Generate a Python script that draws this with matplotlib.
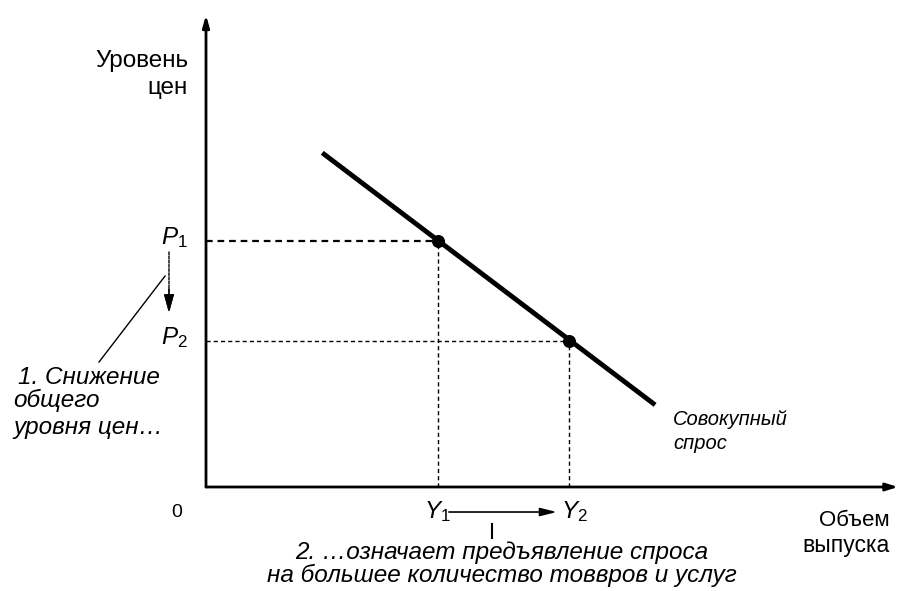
import matplotlib
matplotlib.use("Agg")
import matplotlib.pyplot as plt
from matplotlib import font_manager as fm

# ---- data (economic coordinates) ----
demand_x = [1.68, 6.49]
demand_y = [7.08, 1.74]
Y_vals = [3.35, 5.25]          # Y1, Y2
P_vals = [5.22, 3.10]          # P1, P2
P_labels = ["$P_1$", "$P_2$"]
Y_labels = ["$Y_1$", "$Y_2$"]

names = {f.name for f in fm.fontManager.ttflist}
REG = "Liberation Sans"
NARROW = "Liberation Sans Narrow" if "Liberation Sans Narrow" in names else "Liberation Sans"

plt.rcParams["mathtext.fontset"] = "custom"
plt.rcParams["mathtext.it"] = "Liberation Sans:italic"
plt.rcParams["mathtext.rm"] = "Liberation Sans"

fig = plt.figure(figsize=(9.02, 5.91), dpi=100)
W, H = 902, 591
L, R, B, T = 206, 898, 487, 15
ax = fig.add_axes([L / W, (H - B) / H, (R - L) / W, (B - T) / H])
ax.set_xlim(0, 10)
ax.set_ylim(0, 10)
ax.axis("off")

# axes with arrows
ax.annotate("", xy=(0, 10), xytext=(0, 0), annotation_clip=False,
            arrowprops=dict(arrowstyle="-|>,head_length=0.7,head_width=0.2", lw=2, color="black",
                            shrinkA=0, shrinkB=0))
ax.annotate("", xy=(10, 0), xytext=(0, 0), annotation_clip=False,
            arrowprops=dict(arrowstyle="-|>,head_length=0.7,head_width=0.22", lw=2, color="black",
                            shrinkA=0, shrinkB=0))

# demand curve
ax.plot(demand_x, demand_y, color="black", lw=3.5, solid_capstyle="butt", clip_on=False)

# dashed guides
for i, (yv, pv) in enumerate(zip(Y_vals, P_vals)):
    ax.plot([0, yv], [pv, pv], color="black", lw=1.6 if i == 0 else 1.0,
            dashes=(3, 2.2), clip_on=False)
    ax.plot([yv, yv], [0, pv], color="black", lw=1.0, dashes=(3, 2.2), clip_on=False)

ax.scatter(Y_vals, P_vals, s=70, color="black", zorder=5, clip_on=False)

# axis labels
ax.text(-0.26, 9.03, "Уровень", ha="right", va="center", fontsize=17.5, family=REG)
ax.text(-0.26, 8.46, "цен", ha="right", va="center", fontsize=17.5, family=REG)
ax.text(9.88, -0.70, "Объем", ha="right", va="center", fontsize=16, family=NARROW)
ax.text(9.88, -1.23, "выпуска", ha="right", va="center", fontsize=16.5, family=NARROW)
ax.text(-0.42, -0.53, "0", ha="center", va="center", fontsize=14, family=NARROW)

# P labels
for lab, pv in zip(P_labels, P_vals):
    ax.text(-0.27, pv + 0.06, lab, ha="right", va="center", fontsize=17.5)

# P1 -> P2 arrow
ax.annotate("", xy=(-0.535, 3.69), xytext=(-0.535, 4.98), annotation_clip=False,
            arrowprops=dict(arrowstyle="-|>,head_length=1.1,head_width=0.3", lw=1.0,
                            linestyle=(0, (2, 1)), color="black", shrinkA=0, shrinkB=0))
ax.annotate("", xy=(-0.535, 3.69), xytext=(-0.535, 4.2), annotation_clip=False,
            arrowprops=dict(arrowstyle="-|>,head_length=1.1,head_width=0.3", lw=1.0,
                            color="black", shrinkA=0, shrinkB=0))
# pointer line
ax.plot([-0.592, -1.546], [4.47, 2.648], color="black", lw=1.0, clip_on=False)

ax.text(-2.72, 2.33, "1. Снижение", ha="left", va="center", fontsize=17.5, style="italic", family=REG)
ax.text(-2.78, 1.84, "общего", ha="left", va="center", fontsize=17.5, style="italic", family=REG)
ax.text(-2.78, 1.27, "уровня цен…", ha="left", va="center", fontsize=17.5, style="italic", family=REG)

# Y labels and arrow
ax.text(Y_vals[0], -0.53, Y_labels[0], ha="center", va="center", fontsize=17.5)
ax.text(Y_vals[1] - 0.12, -0.53, Y_labels[1], ha="left", va="center", fontsize=17.5)
ax.annotate("", xy=(5.07, -0.53), xytext=(3.51, -0.53), annotation_clip=False,
            arrowprops=dict(arrowstyle="-|>,head_length=1.0,head_width=0.25", lw=1.2,
                            color="black", shrinkA=0, shrinkB=0))
ax.plot([4.133, 4.133], [-0.78, -1.09], color="black", lw=1.5, clip_on=False)

ax.text(4.277, -1.39, "2. …означает предъявление спроса", ha="center", va="center",
        fontsize=17.5, style="italic", family=NARROW)
ax.text(4.277, -1.88, "на большее количество товвров и услуг", ha="center", va="center",
        fontsize=17.5, style="italic", family=NARROW)

ax.text(6.75, 1.42, "Совокупный", ha="left", va="center", fontsize=14.5, style="italic", family=NARROW)
ax.text(6.75, 0.93, "спрос", ha="left", va="center", fontsize=14.5, style="italic", family=NARROW)

fig.savefig("out.png", dpi=100)
